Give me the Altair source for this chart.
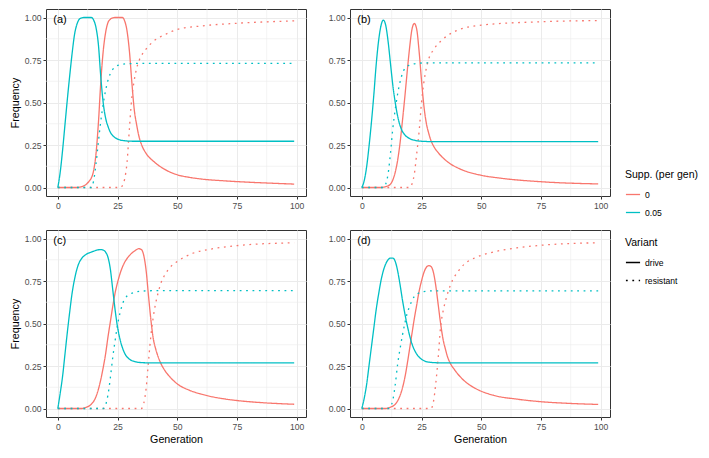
import altair as alt
import pandas as pd

GEN_TICKS = [0, 25, 50, 75, 100]
FREQ_TICKS = [0.0, 0.25, 0.5, 0.75, 1.0]
GEN_MINOR = [12.5, 37.5, 62.5, 87.5]
FREQ_MINOR = [0.125, 0.375, 0.625, 0.875]
PANELS = ["(a)", "(b)", "(c)", "(d)"]
SUPP = ["0", "0.05"]
VARIANT = ["drive", "resistant"]
COLORS = ["#F8766D", "#00BFC4"]

# (generation, frequency) points
a_drive_0 = [(0,0),(8,0),(10,0.005),(12,0.02),(13,0.035),(14,0.055),(15,0.1),(16,0.2),(17,0.38),(18,0.62),(19,0.8),(20,0.91),(21,0.97),(22,0.99),(23,0.998),(24,1.0),(27,1.0),(28,0.98),(29,0.92),(30,0.8),(31,0.62),(32,0.46),(33,0.37),(34,0.3),(35,0.255),(37,0.2),(40,0.155),(45,0.105),(50,0.075),(55,0.06),(60,0.05),(70,0.039),(80,0.031),(90,0.025),(99,0.02)]
a_resist_0 = [(0,0),(26,0),(27,0.01),(28,0.05),(29,0.15),(30,0.35),(31,0.53),(32,0.63),(33,0.7),(34,0.745),(35,0.775),(37,0.815),(40,0.86),(45,0.9),(50,0.93),(60,0.95),(75,0.966),(99,0.98)]
a_drive_005 = [(0,0),(1,0.09),(2,0.22),(3,0.37),(4,0.52),(5,0.66),(6,0.79),(7,0.9),(8,0.96),(9,0.99),(10,0.998),(11,1.0),(14,1.0),(15,0.985),(16,0.94),(17,0.84),(18,0.65),(19,0.5),(20,0.41),(21,0.36),(22,0.325),(23,0.305),(24,0.293),(26,0.28),(28,0.275),(32,0.272),(99,0.272)]
a_resist_005 = [(0,0),(14,0),(15,0.04),(16,0.14),(17,0.27),(18,0.39),(19,0.49),(20,0.57),(21,0.63),(22,0.67),(23,0.695),(24,0.71),(26,0.722),(29,0.728),(35,0.73),(99,0.73)]

b_drive_0 = [(0,0),(8,0),(10,0.005),(12,0.02),(13,0.045),(14,0.09),(15,0.16),(16,0.26),(17,0.39),(18,0.53),(19,0.68),(20,0.82),(21,0.93),(22,0.965),(23,0.93),(24,0.8),(25,0.63),(26,0.48),(27,0.38),(28,0.32),(29,0.275),(30,0.245),(32,0.205),(36,0.15),(41,0.11),(50,0.072),(58,0.055),(75,0.034),(99,0.021)]
b_resist_0 = [(0,0),(20,0),(21,0.02),(22,0.08),(23,0.2),(24,0.33),(25,0.5),(26,0.62),(27,0.7),(28,0.755),(30,0.81),(33,0.86),(36,0.895),(41,0.93),(50,0.955),(75,0.975),(99,0.982)]
b_drive_005 = [(0,0),(1,0.04),(2,0.12),(3,0.24),(4,0.38),(5,0.54),(6,0.72),(7,0.86),(8,0.95),(9,0.985),(10,0.955),(11,0.86),(12,0.73),(13,0.6),(14,0.5),(15,0.42),(16,0.365),(17,0.33),(18,0.31),(20,0.288),(22,0.278),(25,0.272),(30,0.27),(99,0.27)]
b_resist_005 = [(0,0),(9,0),(10,0.02),(11,0.08),(12,0.2),(13,0.35),(14,0.46),(15,0.55),(16,0.62),(17,0.67),(18,0.7),(20,0.72),(23,0.73),(27,0.733),(99,0.733)]

c_drive_0 = [(0,0),(10,0),(12,0.008),(14,0.025),(16,0.07),(18,0.17),(19,0.24),(20,0.32),(21,0.42),(22,0.51),(23,0.6),(24,0.68),(25,0.74),(26,0.79),(27,0.83),(28,0.86),(30,0.9),(32,0.925),(34,0.94),(35,0.935),(36,0.9),(37,0.81),(38,0.66),(39,0.52),(40,0.41),(41,0.35),(42,0.305),(43,0.27),(45,0.22),(47,0.185),(50,0.145),(55,0.108),(60,0.085),(65,0.068),(70,0.056),(75,0.047),(87,0.033),(99,0.025)]
c_resist_0 = [(0,0),(35,0),(36,0.03),(37,0.12),(38,0.28),(39,0.43),(40,0.54),(41,0.62),(42,0.68),(43,0.73),(45,0.79),(47,0.83),(50,0.865),(56,0.91),(65,0.94),(75,0.958),(99,0.975)]
c_drive_005 = [(0,0),(1,0.09),(2,0.19),(3,0.32),(4,0.45),(5,0.57),(6,0.68),(7,0.76),(8,0.82),(9,0.86),(10,0.883),(12,0.908),(14,0.92),(16,0.93),(18,0.935),(19,0.932),(20,0.92),(21,0.89),(22,0.82),(23,0.7),(24,0.58),(25,0.48),(26,0.41),(27,0.36),(28,0.325),(30,0.29),(32,0.277),(35,0.27),(40,0.268),(99,0.268)]
c_resist_005 = [(0,0),(19,0),(20,0.02),(21,0.08),(22,0.18),(23,0.3),(24,0.4),(25,0.49),(26,0.56),(27,0.61),(28,0.645),(30,0.67),(32,0.683),(35,0.69),(40,0.693),(99,0.693)]

d_drive_0 = [(0,0),(10,0),(12,0.008),(14,0.025),(15,0.045),(16,0.075),(17,0.12),(18,0.18),(19,0.26),(20,0.35),(21,0.44),(22,0.53),(23,0.61),(24,0.69),(25,0.75),(26,0.8),(27,0.83),(28,0.84),(29,0.835),(30,0.8),(31,0.72),(32,0.61),(33,0.5),(34,0.41),(35,0.35),(36,0.3),(37,0.268),(39,0.225),(42,0.175),(45,0.14),(48,0.115),(55,0.078),(65,0.055),(75,0.04),(87,0.03),(99,0.024)]
d_resist_0 = [(0,0),(29,0),(30,0.04),(31,0.15),(32,0.3),(33,0.48),(34,0.57),(35,0.63),(36,0.68),(38,0.755),(40,0.8),(43,0.85),(48,0.89),(55,0.92),(65,0.945),(75,0.96),(99,0.975)]
d_drive_005 = [(0,0),(1,0.06),(2,0.14),(3,0.25),(4,0.36),(5,0.47),(6,0.58),(7,0.67),(8,0.75),(9,0.81),(10,0.85),(11,0.875),(12,0.885),(13,0.885),(14,0.865),(15,0.81),(16,0.73),(17,0.64),(18,0.56),(19,0.49),(20,0.43),(21,0.38),(22,0.345),(23,0.32),(25,0.29),(27,0.276),(30,0.27),(35,0.268),(99,0.268)]
d_resist_005 = [(0,0),(11,0),(12,0.01),(13,0.05),(14,0.14),(15,0.26),(16,0.35),(17,0.43),(18,0.5),(19,0.56),(20,0.6),(21,0.635),(22,0.66),(24,0.68),(27,0.69),(30,0.692),(99,0.692)]

series = {
    "(a)": {("0", "drive"): a_drive_0, ("0", "resistant"): a_resist_0,
            ("0.05", "drive"): a_drive_005, ("0.05", "resistant"): a_resist_005},
    "(b)": {("0", "drive"): b_drive_0, ("0", "resistant"): b_resist_0,
            ("0.05", "drive"): b_drive_005, ("0.05", "resistant"): b_resist_005},
    "(c)": {("0", "drive"): c_drive_0, ("0", "resistant"): c_resist_0,
            ("0.05", "drive"): c_drive_005, ("0.05", "resistant"): c_resist_005},
    "(d)": {("0", "drive"): d_drive_0, ("0", "resistant"): d_resist_0,
            ("0.05", "drive"): d_drive_005, ("0.05", "resistant"): d_resist_005},
}

rows = []
for p, d in series.items():
    for (s, v), pts in d.items():
        for g, f in pts:
            rows.append({"panel": p, "supp": s, "variant": v, "gen": g, "freq": f})
df = pd.DataFrame(rows)

FONT = "Liberation Sans"
GRID = "#EBEBEB"
PANEL_W = 260
PANEL_H = 187

color_enc = alt.Color(
    "supp:N",
    scale=alt.Scale(domain=SUPP, range=COLORS),
    legend=alt.Legend(title="Supp. (per gen)", orient="none", legendX=579, legendY=161,
                      symbolType="stroke", symbolSize=200, symbolStrokeWidth=1.3),
)
dash_enc = alt.StrokeDash(
    "variant:N",
    scale=alt.Scale(domain=VARIANT, range=[[1, 0], [1.8, 4.6]]),
    legend=alt.Legend(title="Variant", orient="none", legendX=579, legendY=229,
                      symbolType="stroke", symbolSize=200, symbolStrokeWidth=1.3,
                      symbolStrokeColor="black"),
)


def make_panel(label, x_title, y_title):
    pdf = df[df["panel"] == label]
    x_enc = alt.X("gen:Q",
                  scale=alt.Scale(domain=[-4.95, 103.95], nice=False, zero=False),
                  axis=alt.Axis(values=GEN_TICKS, title=x_title, format="d"))
    y_enc = alt.Y("freq:Q",
                  scale=alt.Scale(domain=[-0.05, 1.05], nice=False, zero=False),
                  axis=alt.Axis(values=FREQ_TICKS, title=y_title, format=".2f"))
    vminor = alt.Chart(pd.DataFrame({"gen": GEN_MINOR})).mark_rule(
        color=GRID, strokeWidth=0.6).encode(x=x_enc)
    hminor = alt.Chart(pd.DataFrame({"freq": FREQ_MINOR})).mark_rule(
        color=GRID, strokeWidth=0.6).encode(y=y_enc)
    lines = alt.Chart(pdf).mark_line(interpolate="monotone", strokeWidth=1.3,
                                     strokeCap="butt").encode(
        x=x_enc, y=y_enc, color=color_enc, strokeDash=dash_enc)
    txt = alt.Chart(pd.DataFrame({"gen": [-1.9], "freq": [0.985], "label": [label]})).mark_text(
        align="left", baseline="middle", fontSize=11, color="black", font=FONT).encode(
        x=x_enc, y=y_enc, text="label:N")
    return alt.layer(vminor, hminor, lines, txt).properties(width=PANEL_W, height=PANEL_H)


pa = make_panel("(a)", None, "Frequency")
pb = make_panel("(b)", None, None)
pc = make_panel("(c)", "Generation", "Frequency")
pdd = make_panel("(d)", "Generation", None)

chart = alt.vconcat(
    alt.hconcat(pa, pb, spacing=20),
    alt.hconcat(pc, pdd, spacing=20),
    spacing=18,
).properties(padding=0).configure_view(
    stroke="#333333", strokeWidth=1
).configure_axis(
    domain=False, tickColor="#333333", tickSize=3, tickWidth=1,
    labelColor="#4D4D4D", labelFontSize=8.6, labelFont=FONT, labelPadding=2,
    titleFont=FONT, titleFontSize=10.7, titleFontWeight="normal", titleColor="black",
    titlePadding=4, grid=True, gridColor=GRID, gridWidth=1,
).configure_legend(
    titleFont=FONT, titleFontSize=10.5, titleFontWeight="normal", titleColor="black",
    labelFont=FONT, labelFontSize=8.6, labelColor="black", titlePadding=6, rowPadding=5,
)

chart.save("out.html", embed_options={"renderer": "svg", "actions": False})
